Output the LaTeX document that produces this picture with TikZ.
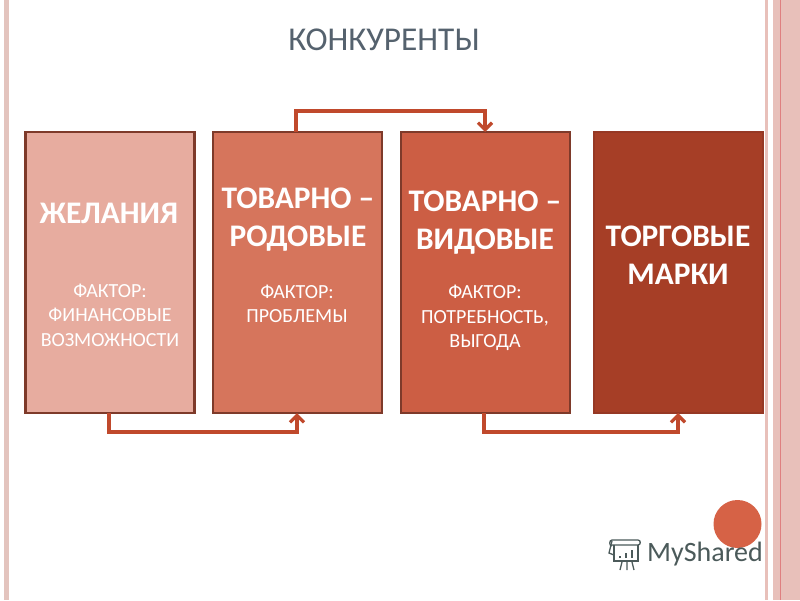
\documentclass[tikz,border=0pt]{standalone}
\usepackage{fontspec}
\setmainfont{Carlito}
\usetikzlibrary{arrows.meta}
\definecolor{bandA}{HTML}{E8C0BA}
\definecolor{bandL}{HTML}{E3C4BE}
\definecolor{bandR}{HTML}{DF7F80}
\definecolor{lineC}{HTML}{C0492C}
\definecolor{edgeC}{HTML}{7E3A2A}
\definecolor{fillA}{RGB}{231,172,159}
\definecolor{fillB}{RGB}{214,117,92}
\definecolor{fillC}{RGB}{204,94,68}
\definecolor{fillD}{RGB}{166,62,38}
\definecolor{edgeD}{RGB}{150,56,36}
\definecolor{titleC}{RGB}{85,98,110}
\definecolor{logoC}{RGB}{75,90,90}
\definecolor{dotC}{RGB}{214,98,70}
\tikzset{
  box/.style={draw=edgeC,line width=2.2pt,minimum height=281pt,minimum width=169pt,inner sep=0pt,outer sep=0pt,anchor=north west},
  head/.style={text=white,font=\bfseries\fontsize{31.4}{38}\selectfont,align=center,inner sep=0pt},
  sub/.style={text=white,font=\fontsize{20}{24.5}\selectfont,align=center,inner sep=0pt},
  conn/.style={draw=lineC,line width=3.2pt,-{Straight Barb[length=7pt,width=14pt,line width=3.2pt]}}
}
\begin{document}
\begin{tikzpicture}[x=1pt,y=-1pt]
\useasboundingbox (0,0) rectangle (800,600);
\fill[white] (0,0) rectangle (800,600);
% side bands
\fill[bandL] (4,0) rectangle (9,600);
\fill[bandA] (765,0) rectangle (768,600);
\fill[bandA] (773,0) rectangle (800,600);
\draw[bandR,line width=0.8pt] (780.5,0) -- (780.5,600);
% boxes
\node[box,fill=fillA] (a) at (25.5,132) {};
\node[box,fill=fillB] (b) at (213,132) {};
\node[box,fill=fillC] (c) at (401,132) {};
\node[box,fill=fillD,draw=edgeD] (d) at (594,132) {};
% title
\node[text=titleC,font=\fontsize{33.3}{38}\selectfont,inner sep=0pt] (t) at (384,40) {КОНКУРЕНТЫ};
% texts
\node[head] (a1) at (109,213) {ЖЕЛАНИЯ};
\node[sub] (a2) at (110,315) {ФАКТОР:\\ФИНАНСОВЫЕ\\ВОЗМОЖНОСТИ};
\node[head] (b1) at (298,220) {ТОВАРНО –\\РОДОВЫЕ};
\node[sub] (b2) at (297,304) {ФАКТОР:\\ПРОБЛЕМЫ};
\node[head] (c1) at (485,223) {ТОВАРНО –\\ВИДОВЫЕ};
\node[sub] (c2) at (485,318) {ФАКТОР:\\ПОТРЕБНОСТЬ,\\ВЫГОДА};
\node[head] (d1) at (678,255) {ТОРГОВЫЕ\\МАРКИ};
% connectors
\coordinate (ab1) at (109,413);
\coordinate (ab2) at (297,413);
\coordinate (bc1) at (296,132);
\coordinate (bc2) at (485,132);
\coordinate (cd1) at (484,413);
\coordinate (cd2) at (678,413);
\draw[conn] (ab1) -- (109,432) -- (297,432) -- (ab2);
\draw[conn] (bc1) -- (296,111) -- (485,111) -- (bc2);
\draw[conn] (cd1) -- (484,432) -- (678,432) -- (cd2);
% decoration
\fill[dotC] (737.5,524) circle (24pt);
% logo
\begin{scope}[draw=logoC,line width=1.3pt]
\draw (612,546) .. controls (609,546) and (609,540) .. (612,540) -- (638,540) .. controls (641,540) and (641,545) .. (638,545) -- (612,545);
\draw (612,541) -- (609,553) -- (614,555);
\draw (614,545) -- (614,561) -- (638,561) -- (638,545);
\draw (622,562) -- (620,570) (627,562) -- (627,570) (632,562) -- (634,570);
\draw[line width=2.2pt] (620,558) -- (620,556) (626,558) -- (626,553) (632,558) -- (632,550);
\end{scope}
\node[text=logoC,font=\fontsize{28}{32}\selectfont,anchor=west,inner sep=0pt] (logo) at (647,554) {MyShared};
\end{tikzpicture}
\end{document}
